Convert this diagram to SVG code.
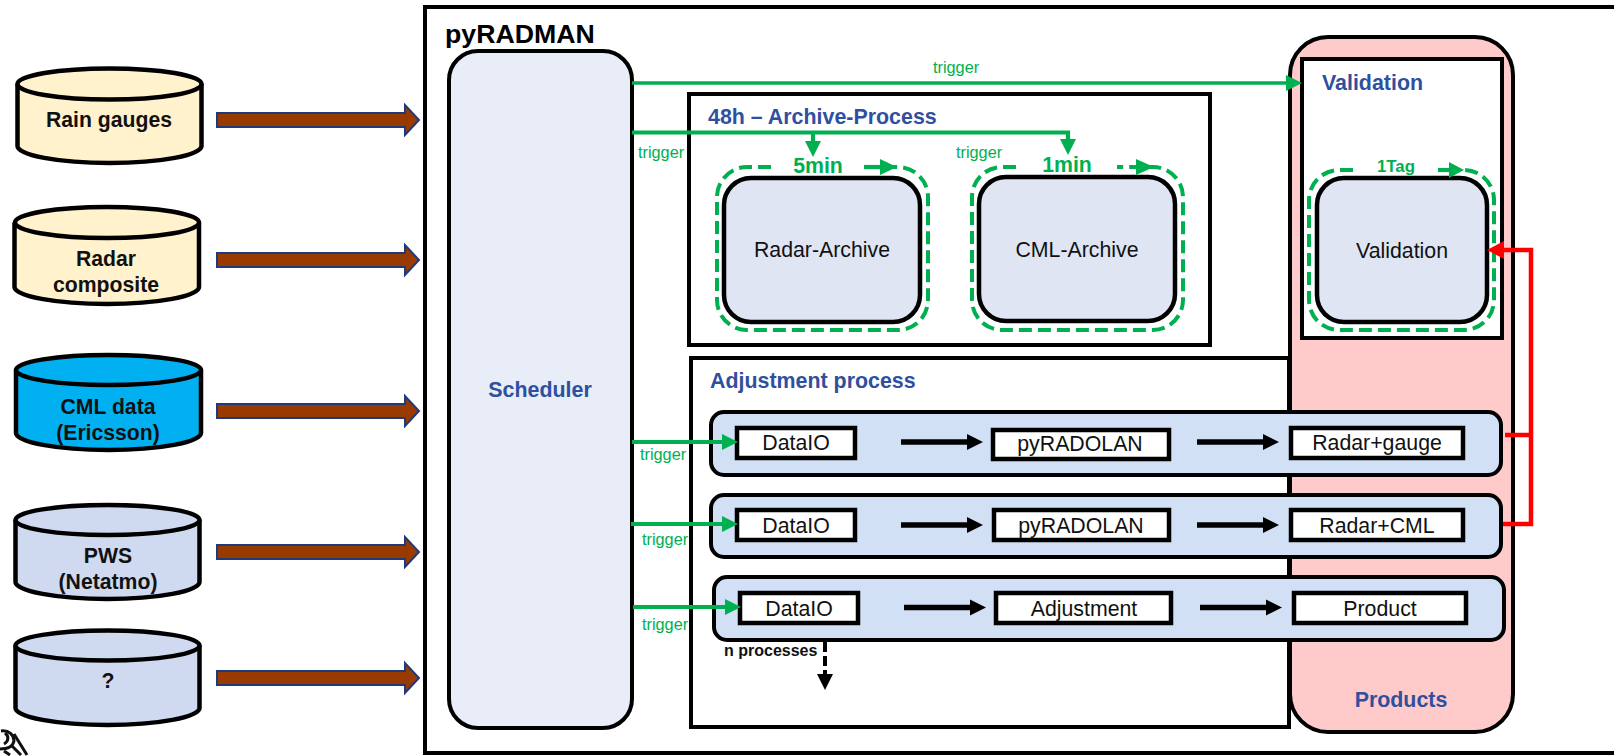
<svg xmlns="http://www.w3.org/2000/svg" width="1614" height="756" viewBox="0 0 1614 756">
<style>
text{font-family:"Liberation Sans",Arial,sans-serif}
.cyl{stroke:#000;stroke-width:4.5}
.t{font-size:21.3px;text-anchor:middle;fill:#111}
.cl{font-size:21.2px;font-weight:bold;text-anchor:middle;fill:#111}
.h{font-size:21.4px;font-weight:bold;fill:#2f4f9f}
.g{font-size:16.3px;fill:#00b050}
.gb{font-weight:bold;fill:#00b050;text-anchor:middle}
.big{fill:#fff;stroke:#000;stroke-width:4}
.n{fill:#e0e5f4;stroke:#000;stroke-width:4.5}
.d{fill:none;stroke:#00b050;stroke-width:4;stroke-dasharray:13 6}
.row{fill:#d2e0f6;stroke:#000;stroke-width:4}
.b{fill:#fff;stroke:#000;stroke-width:4.5}
.ga{fill:none;stroke:#00b050;stroke-width:4.2}
.gh{fill:#00b050}
.k{stroke:#000;stroke-width:5.5;fill:none}
.ar{fill:#993b00;stroke:#1f3a7a;stroke-width:2}
</style>
<rect x="0" y="0" width="1614" height="756" fill="#fff"/>
<g id="logo" fill="none" stroke="#111" stroke-width="3"><path d="M1 731C9 730 14 735 14 741C13 746 8 749 0 749"/><path d="M5 733C9 736 9 741 4 744"/><path d="M14 734L27 755M11 745L21 755M4 751L10 755"/></g>
<g id="pyradman"><rect x="425" y="7" width="1200" height="746" fill="#fff" stroke="#000" stroke-width="4"/><text x="445" y="43" font-size="26.7" font-weight="bold" fill="#000">pyRADMAN</text></g>
<g id="rain-gauges"><path class="cyl" fill="#fff2cc" d="M17.500 84V146C17.500 155 58 163 109.500 163S201.500 155 201.500 146V84"/><ellipse class="cyl" cx="109.500" cy="84" rx="92" ry="15.500" fill="#fff2cc"/><text class="cl" x="109" y="127">Rain gauges</text></g>
<g id="radar-composite"><path class="cyl" fill="#fff2cc" d="M14.500 222.500V287C14.500 296 56 304 107 304S199 296 199 287V222.500"/><ellipse class="cyl" cx="107" cy="222.500" rx="92" ry="15.500" fill="#fff2cc"/><text class="cl" x="106" y="266">Radar</text><text class="cl" x="106" y="292">composite</text></g>
<g id="cml-data"><path class="cyl" fill="#00b0f0" d="M16 370V433C16 442 57 450 108.500 450S201 442 201 433V370"/><ellipse class="cyl" cx="108.500" cy="370" rx="92.500" ry="15" fill="#00b0f0"/><text class="cl" x="108" y="414">CML data</text><text class="cl" x="108" y="440">(Ericsson)</text></g>
<g id="pws"><path class="cyl" fill="#cfd9f0" d="M15.500 520V582C15.500 591 57 599 107.500 599S199.500 591 199.500 582V520"/><ellipse class="cyl" cx="107.500" cy="520" rx="92" ry="15" fill="#cfd9f0"/><text class="cl" x="108" y="563">PWS</text><text class="cl" x="108" y="589">(Netatmo)</text></g>
<g id="unknown"><path class="cyl" fill="#cfd9f0" d="M15.500 645.500V708C15.500 717 57 725 107.500 725S199.500 717 199.500 708V645.500"/><ellipse class="cyl" cx="107.500" cy="645.500" rx="92" ry="15" fill="#cfd9f0"/><text class="cl" x="108" y="688">?</text></g>
<g id="scheduler"><rect x="449" y="51" width="183" height="677" rx="29" fill="#e8edf8" stroke="#000" stroke-width="4"/><text class="h" x="540" y="397" text-anchor="middle">Scheduler</text></g>
<g id="archive-process"><rect class="big" x="689" y="94" width="521" height="251"/><text class="h" x="708" y="124">48h – Archive-Process</text></g>
<g id="adjustment-process"><rect class="big" x="691" y="358" width="598" height="369"/><text class="h" x="710" y="388">Adjustment process</text></g>
<g id="products"><rect x="1290" y="37" width="223" height="695" rx="38" fill="#ffcaca" stroke="#000" stroke-width="4"/><text class="h" x="1401" y="707" text-anchor="middle">Products</text></g>
<g id="validation-box"><rect class="big" x="1302" y="59" width="200" height="279"/><text class="h" x="1322" y="90">Validation</text></g>
<g id="radar-archive"><path class="d" d="M771 167H747A30 30 0 0 0 717 197V300A30 30 0 0 0 747 330H898A30 30 0 0 0 928 300V197A30 30 0 0 0 898 167H863"/><rect class="n" x="724" y="178" width="196" height="144" rx="27"/><text class="t" x="822" y="257">Radar-Archive</text><text class="gb" x="818" y="173" font-size="21.3">5min</text></g>
<g id="cml-archive"><path class="d" d="M1016 167H1002A30 30 0 0 0 972 197V300A30 30 0 0 0 1002 330H1153A30 30 0 0 0 1183 300V197A30 30 0 0 0 1153 167H1117"/><rect class="n" x="979" y="177" width="196" height="144" rx="27"/><text class="t" x="1077" y="257">CML-Archive</text><text class="gb" x="1067" y="172" font-size="21.3">1min</text></g>
<g id="validation"><path class="d" d="M1353 170H1339A30 30 0 0 0 1309 200V300A30 30 0 0 0 1339 330H1464A30 30 0 0 0 1494 300V200A30 30 0 0 0 1464 170H1438"/><rect class="n" x="1317" y="178" width="170" height="144" rx="27"/><text class="t" x="1402" y="258">Validation</text><text class="gb" x="1396" y="172" font-size="16.800">1Tag</text></g>
<g id="row1"><rect class="row" x="711" y="412" width="790" height="63" rx="13"/><rect class="b" x="737" y="428" width="118" height="30"/><text class="t" x="796" y="450">DataIO</text><rect class="b" x="993" y="430" width="176" height="29"/><text class="t" x="1080" y="451">pyRADOLAN</text><rect class="b" x="1291" y="428" width="172" height="30"/><text class="t" x="1377" y="450">Radar+gauge</text></g>
<g id="row2"><rect class="row" x="711" y="495" width="790" height="62" rx="13"/><rect class="b" x="737" y="510" width="118" height="30"/><text class="t" x="796" y="533">DataIO</text><rect class="b" x="994" y="510" width="175" height="30"/><text class="t" x="1081" y="533">pyRADOLAN</text><rect class="b" x="1291" y="510" width="172" height="30"/><text class="t" x="1377" y="533">Radar+CML</text></g>
<g id="row3"><rect class="row" x="714" y="577" width="790" height="63" rx="13"/><rect class="b" x="740" y="593" width="118" height="30"/><text class="t" x="799" y="616">DataIO</text><rect class="b" x="996" y="593" width="175" height="30"/><text class="t" x="1084" y="616">Adjustment</text><rect class="b" x="1294" y="593" width="172" height="30"/><text class="t" x="1380" y="616">Product</text></g>
<g id="connectors">
<path class="ar" d="M217 113H405V105L419 120L405 135V127H217Z"/>
<path class="ar" d="M217 253H405V245L419 260L405 275V267H217Z"/>
<path class="ar" d="M217 404H405V396L419 411L405 426V418H217Z"/>
<path class="ar" d="M217 545H405V537L419 552L405 567V559H217Z"/>
<path class="ar" d="M217 671H405V663L419 678L405 693V685H217Z"/>
<path class="ga" style="stroke-width:3.7" d="M632 83H1288"/><path class="gh" d="M1286 75L1302 83L1286 91Z"/>
<path class="ga" d="M632 132.500H1068V140"/><path class="gh" d="M1060 139H1076L1068 155Z"/>
<path class="ga" d="M813 133V141"/><path class="gh" d="M805 141H821L813 157Z"/>
<path class="ga" d="M632 442H724"/><path class="gh" d="M722 434L738 442L722 450Z"/>
<path class="ga" d="M631 524H724"/><path class="gh" d="M722 516L738 524L722 532Z"/>
<path class="ga" d="M633 607H727"/><path class="gh" d="M725 599L741 607L725 615Z"/>
<path class="ga" d="M864 167H882"/><path class="gh" d="M880 159L897 167L880 175Z"/>
<path class="ga" d="M1136 167H1140"/><path class="gh" d="M1136 159L1154 167L1136 175Z"/>
<path class="ga" d="M1438 170H1452"/><path class="gh" d="M1449 162L1464 170L1449 178Z"/>
<path class="k" d="M901 442H970"/><path d="M967 434L983 442L967 450Z"/>
<path class="k" d="M1197 442H1265"/><path d="M1263 434L1279 442L1263 450Z"/>
<path class="k" d="M901 525H970"/><path d="M967 517L983 525L967 533Z"/>
<path class="k" d="M1197 525H1265"/><path d="M1263 517L1279 525L1263 533Z"/>
<path class="k" d="M904 607.500H973"/><path d="M970 599.500L986 607.500L970 615.500Z"/>
<path class="k" d="M1200 607.500H1268"/><path d="M1266 599.500L1282 607.500L1266 615.500Z"/>
<path class="k" style="stroke-width:4" d="M825 642V674" stroke-dasharray="10 4"/><path d="M817 674H833L825 690Z"/>
<path d="M1505 435H1531M1503 524H1531V250H1500" fill="none" stroke="#f00" stroke-width="4.500"/><path d="M1504 241V259L1487 250Z" fill="#f00"/>
<text class="g" x="933" y="73">trigger</text>
<text class="g" x="638" y="158">trigger</text>
<text class="g" x="956" y="158">trigger</text>
<text class="g" x="640" y="460">trigger</text>
<text class="g" x="642" y="545">trigger</text>
<text class="g" x="642" y="630">trigger</text>
<text x="724" y="656" font-size="16" font-weight="bold" fill="#111">n processes</text>
</g>
</svg>
